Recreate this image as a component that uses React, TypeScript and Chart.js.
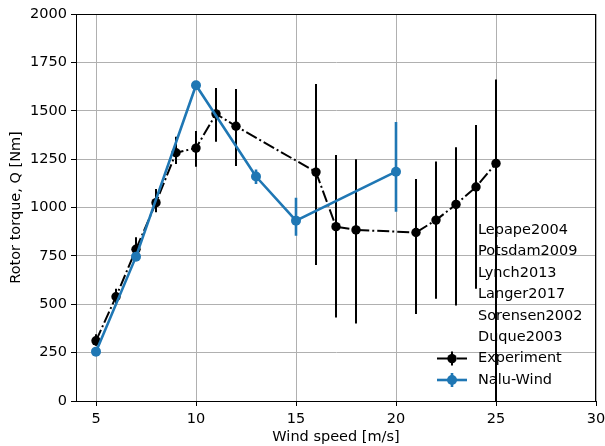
import React, { useEffect, useRef } from "react";
import { Chart, registerables } from "chart.js";
Chart.register(...registerables);

// Experiment data (wind speed, torque, lower/upper bounds of error bars)
const expWind = [5, 6, 7, 8, 9, 10, 11, 12, 16, 17, 18, 21, 22, 23, 24, 25];
const expTorque = [311, 539, 784, 1025, 1283, 1307, 1484, 1420, 1183, 901, 884, 871, 935, 1016, 1106, 1228];
const expLow = [285, 505, 760, 975, 1225, 1211, 1340, 1215, 703, 432, 401, 450, 529, 493, 580, 0];
const expHigh = [345, 580, 846, 1095, 1366, 1395, 1617, 1613, 1638, 1271, 1249, 1147, 1238, 1312, 1426, 1662];

// Nalu-Wind data
const naluWind = [5, 7, 10, 13, 15, 20];
const naluTorque = [255, 746, 1632, 1160, 932, 1185];
const naluLow = [255, 746, 1632, 1121, 854, 978];
const naluHigh = [255, 746, 1632, 1197, 1051, 1442];

const xTicks = [5, 10, 15, 20, 25, 30];
const yTicks = [0, 250, 500, 750, 1000, 1250, 1500, 1750, 2000];
const refLabels = ["Lepape2004", "Potsdam2009", "Lynch2013", "Langer2017", "Sorensen2002", "Duque2003"];
const seriesNames = ["Experiment", "Nalu-Wind"];
const xTitle = "Wind speed [m/s]";
const yTitle = "Rotor torque, Q [Nm]";

const BLUE = "#1f77b4";
const FONT = "'DejaVu Sans', sans-serif";
const FS = 14.5;
const EXP_DASH = [12, 3, 2, 3];

const errorBarPlugin = {
  id: "errorBars",
  beforeDatasetsDraw(chart: any) {
    const { ctx, chartArea, scales } = chart;
    const x = scales.x;
    const y = scales.y;
    ctx.save();
    ctx.beginPath();
    ctx.rect(chartArea.left, chartArea.top, chartArea.right - chartArea.left, chartArea.bottom - chartArea.top);
    ctx.clip();
    const draw = (xs: number[], lo: number[], hi: number[], color: string, w: number) => {
      ctx.strokeStyle = color;
      ctx.lineWidth = w;
      ctx.setLineDash([]);
      ctx.beginPath();
      xs.forEach((v, i) => {
        if (hi[i] === lo[i]) return;
        const px = x.getPixelForValue(v);
        ctx.moveTo(px, y.getPixelForValue(lo[i]));
        ctx.lineTo(px, y.getPixelForValue(hi[i]));
      });
      ctx.stroke();
    };
    draw(expWind, expLow, expHigh, "#000", 2);
    draw(naluWind, naluLow, naluHigh, BLUE, 2.6);
    ctx.restore();
  },
  afterDraw(chart: any) {
    const { ctx, chartArea } = chart;
    ctx.save();
    // spines
    ctx.strokeStyle = "#000";
    ctx.lineWidth = 1;
    ctx.setLineDash([]);
    ctx.strokeRect(
      Math.round(chartArea.left) + 0.5,
      Math.round(chartArea.top) + 0.5,
      Math.round(chartArea.right - chartArea.left) - 1,
      Math.round(chartArea.bottom - chartArea.top)
    );
    // legend
    const textX = chartArea.right - 118;
    const handleL = chartArea.right - 159;
    const handleR = chartArea.right - 129;
    const handleC = (handleL + handleR) / 2;
    const rowH = 21.4;
    const lastRow = chartArea.bottom - 21;
    const labels = [...refLabels, ...seriesNames];
    ctx.font = `${FS}px ${FONT}`;
    ctx.textAlign = "left";
    ctx.textBaseline = "middle";
    labels.forEach((t, i) => {
      const cy = lastRow - (labels.length - 1 - i) * rowH;
      ctx.fillStyle = "#000";
      ctx.fillText(t, textX, cy);
      const si = i - refLabels.length;
      if (si >= 0) {
        const color = si === 0 ? "#000" : BLUE;
        const lw = si === 0 ? 2 : 2.6;
        ctx.strokeStyle = color;
        ctx.lineWidth = lw;
        ctx.setLineDash(si === 0 ? EXP_DASH : []);
        ctx.beginPath();
        ctx.moveTo(handleL, cy);
        ctx.lineTo(handleR, cy);
        ctx.stroke();
        ctx.setLineDash([]);
        ctx.beginPath();
        ctx.moveTo(handleC, cy - 7);
        ctx.lineTo(handleC, cy + 7);
        ctx.stroke();
        ctx.fillStyle = color;
        ctx.beginPath();
        ctx.arc(handleC, cy, si === 0 ? 4.7 : 5, 0, Math.PI * 2);
        ctx.fill();
      }
    });
    ctx.restore();
  },
};

export default function App() {
  const ref = useRef<HTMLCanvasElement | null>(null);
  useEffect(() => {
    if (!ref.current) return;
    Chart.defaults.font.family = FONT;
    Chart.defaults.font.size = FS;
    Chart.defaults.color = "#000";
    const chart = new Chart(ref.current, {
      type: "scatter",
      data: {
        datasets: [
          {
            label: seriesNames[0],
            data: expWind.map((w, i) => ({ x: w, y: expTorque[i] })),
            showLine: true,
            borderColor: "#000",
            backgroundColor: "#000",
            borderWidth: 2,
            borderDash: EXP_DASH,
            pointRadius: 4.7,
            pointBorderWidth: 0,
            pointBackgroundColor: "#000",
            tension: 0,
            order: 1,
          },
          {
            label: seriesNames[1],
            data: naluWind.map((w, i) => ({ x: w, y: naluTorque[i] })),
            showLine: true,
            borderColor: BLUE,
            backgroundColor: BLUE,
            borderWidth: 2.6,
            pointRadius: 5,
            pointBorderWidth: 0,
            pointBackgroundColor: BLUE,
            tension: 0,
            order: 0,
          },
        ],
      },
      options: {
        animation: false,
        responsive: true,
        maintainAspectRatio: false,
        layout: { padding: { left: 0, top: 14, right: 9, bottom: 0 } },
        plugins: { legend: { display: false }, tooltip: { enabled: false } },
        scales: {
          x: {
            type: "linear",
            min: 4,
            max: 30,
            afterBuildTicks: (s: any) => {
              s.ticks = xTicks.map((v) => ({ value: v }));
            },
            afterFit: (s: any) => {
              s.height = 45;
              s.paddingLeft = 0;
              s.paddingRight = 0;
            },
            ticks: { padding: 5, color: "#000", font: { size: FS, family: FONT }, maxRotation: 0, callback: (v: any) => String(v) },
            grid: { color: "#b0b0b0", lineWidth: 1, tickColor: "#000", tickLength: 5 },
            border: { display: true, color: "#000", width: 1 },
            title: { display: true, text: xTitle, color: "#000", font: { size: FS, family: FONT }, padding: { top: 0, bottom: 0 } },
          },
          y: {
            type: "linear",
            min: 0,
            max: 2000,
            afterBuildTicks: (s: any) => {
              s.ticks = yTicks.map((v) => ({ value: v }));
            },
            afterFit: (s: any) => {
              s.width = 76;
              s.paddingTop = 0;
              s.paddingBottom = 0;
            },
            ticks: { padding: 4, color: "#000", font: { size: FS, family: FONT }, callback: (v: any) => String(v) },
            grid: { color: "#b0b0b0", lineWidth: 1, tickColor: "#000", tickLength: 5 },
            border: { display: true, color: "#000", width: 1 },
            title: { display: true, text: yTitle, color: "#000", font: { size: FS, family: FONT }, padding: { top: 8, bottom: 0 } },
          },
        },
      },
      plugins: [errorBarPlugin],
    } as any);
    return () => chart.destroy();
  }, []);
  return (
    <div style={{ position: "absolute", left: 0, top: 0, width: 605, height: 446, background: "#fff" }}>
      <canvas ref={ref} />
    </div>
  );
}
